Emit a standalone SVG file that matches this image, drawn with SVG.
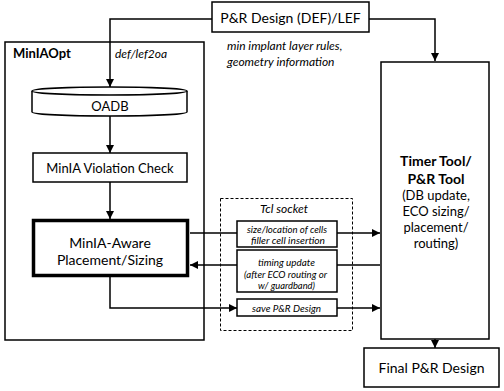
<svg xmlns="http://www.w3.org/2000/svg" width="504" height="391" viewBox="0 0 504 391">
<defs>
<marker id="ah" markerWidth="8" markerHeight="8" refX="8" refY="4" orient="auto" markerUnits="userSpaceOnUse">
<path d="M0,0 L8,4 L0,8 Z" fill="#000"/>
</marker>
<style>
.box{fill:#fff;stroke:#000;stroke-width:1.5}
.thick{fill:#fff;stroke:#000;stroke-width:3.5}
.dash{fill:none;stroke:#000;stroke-width:1;stroke-dasharray:3,2}
.ln{fill:none;stroke:#000;stroke-width:1.5}
text{font-family:Lato,"Open Sans","Liberation Sans",sans-serif;fill:#000;text-anchor:middle;dominant-baseline:central}
.t14{font-size:14px}
.t13{font-size:13px}
.t12{font-size:12px}
.b{font-weight:bold}
.i{font-style:italic}
.s{font-size:10px;font-style:italic}
</style>
</defs>
<g id="minia-opt">
<rect class="box" x="5" y="42" width="199" height="298"/>
<text class="t13 b" x="13" y="53" style="text-anchor:start">MinIAOpt</text>
<text class="t12 i" x="115" y="53" style="text-anchor:start">def/lef2oa</text>
</g>
<g id="tcl-socket">
<rect class="dash" x="220.5" y="198.5" width="132" height="132"/>
<text class="t12 i" x="284" y="208">Tcl socket</text>
</g>
<g id="connectors">
<path class="ln" d="M212,19 L110,19 L110,87" marker-end="url(#ah)"/>
<path class="ln" d="M369,19 L435,19 L435,61" marker-end="url(#ah)"/>
<path class="ln" d="M110,116 L110,153" marker-end="url(#ah)"/>
<path class="ln" d="M110,182 L110,219" marker-end="url(#ah)"/>
<path class="ln" d="M190,233 L380,233" marker-end="url(#ah)"/>
<path class="ln" d="M380,265 L190,265" marker-end="url(#ah)"/>
<path class="ln" d="M110,277 L110,308 L237,308" marker-end="url(#ah)"/>
<path class="ln" d="M337,308 L380,308" marker-end="url(#ah)"/>
<path class="ln" d="M435,339 L435,348" marker-end="url(#ah)"/>
</g>
<g id="pr-design">
<rect class="box" x="212" y="2" width="157" height="30"/>
<text class="t14" x="290.5" y="17">P&amp;R Design (DEF)/LEF</text>
</g>
<g id="note">
<text class="t12 i" x="227" y="45" style="text-anchor:start">min implant layer rules,</text>
<text class="t12 i" x="227" y="61" style="text-anchor:start">geometry information</text>
</g>
<g id="oadb">
<path class="box" d="M32,91 L32,112 A77.5,4 0 0 0 187,112 L187,91"/>
<ellipse class="box" cx="109.5" cy="91" rx="77.5" ry="4"/>
<text class="t13" x="110" y="106">OADB</text>
</g>
<g id="violation-check">
<rect class="box" x="33" y="153" width="154" height="29"/>
<text class="t13" x="110" y="167.5">MinIA Violation Check</text>
</g>
<g id="placement-sizing">
<rect class="thick" x="33.5" y="220.5" width="154" height="55"/>
<text class="t14" x="110" y="242">MinIA-Aware</text>
<text class="t14" x="110" y="259">Placement/Sizing</text>
</g>
<g id="size-location">
<rect class="box" x="237" y="221" width="100" height="26"/>
<text class="s" x="287" y="229" textLength="80" lengthAdjust="spacingAndGlyphs">size/location of cells</text>
<text class="s" x="288" y="240" textLength="74" lengthAdjust="spacingAndGlyphs">filler cell insertion</text>
</g>
<g id="timing-update">
<rect class="box" x="237" y="250" width="100" height="42"/>
<text class="s" x="286.5" y="262" textLength="57" lengthAdjust="spacingAndGlyphs">timing update</text>
<text class="s" x="285.5" y="274" textLength="83" lengthAdjust="spacingAndGlyphs">(after ECO routing or</text>
<text class="s" x="286.5" y="285" textLength="57" lengthAdjust="spacingAndGlyphs">w/ guardband)</text>
</g>
<g id="save-design">
<rect class="box" x="237" y="299" width="100" height="17"/>
<text class="s" x="286.5" y="308" textLength="69" lengthAdjust="spacingAndGlyphs">save P&amp;R Design</text>
</g>
<g id="timer-tool">
<rect class="box" x="381" y="62" width="108" height="277"/>
<text class="t14 b" x="436" y="160">Timer Tool/</text>
<text class="t14 b" x="436" y="178">P&amp;R Tool</text>
<text class="t13" x="436" y="195">(DB update,</text>
<text class="t13" x="436" y="211">ECO sizing/</text>
<text class="t13" x="436" y="227">placement/</text>
<text class="t13" x="436" y="243">routing)</text>
</g>
<g id="final-design">
<rect class="box" x="364" y="348" width="135" height="39"/>
<text class="t14" x="431.5" y="367.5">Final P&amp;R Design</text>
</g>
</svg>
